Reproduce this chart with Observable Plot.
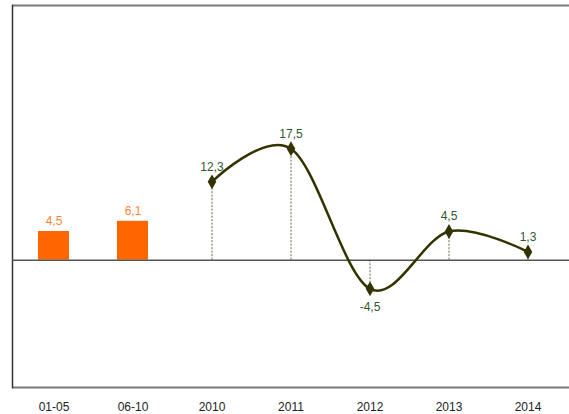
<!DOCTYPE html>
<html>
<head>
<meta charset="utf-8">
<script src="https://cdn.jsdelivr.net/npm/d3@7"></script>
<script src="https://cdn.jsdelivr.net/npm/@observablehq/plot@0.6"></script>
<style>
  html, body { margin: 0; padding: 0; background: #fff; }
  #chart svg { display: block; }
</style>
</head>
<body>
<div id="chart"></div>
<script>
const barCategories = ["01-05", "06-10"];
const barValues = [4.5, 6.1];
const yearCategories = ["2010", "2011", "2012", "2013", "2014"];
const yearValues = [12.3, 17.5, -4.5, 4.5, 1.3];
const categories = [...barCategories, ...yearCategories];
const yDomain = [-20, 40];

const bars = barCategories.map((c, i) => ({cat: c, value: barValues[i]}));
const points = yearCategories.map((c, i) => ({cat: c, value: yearValues[i]}));

const fmt = d3.formatLocale({decimal: ",", thousands: ".", grouping: [3], currency: ["", ""], minus: "-"}).format(".1f");

const lineColor = "#333300";
const labelGreen = "#2f5a30";
const font = "'Liberation Sans', Arial, sans-serif";

const chart = Plot.plot({
  width: 569,
  height: 414,
  marginTop: 5,
  marginBottom: 27,
  marginLeft: 12,
  marginRight: 0,
  style: {fontFamily: font, fontSize: "12px", background: "#fff"},
  x: {type: "band", domain: categories, padding: 0, axis: null},
  y: {domain: yDomain, axis: null},
  marks: [
    Plot.ruleY([yDomain[1]], {stroke: "#7a7a7a", strokeWidth: 2}),
    Plot.ruleY([yDomain[0]], {stroke: "#7a7a7a", strokeWidth: 2}),
    Plot.frame({anchor: "left", stroke: "#333", strokeWidth: 1.5}),
    Plot.barY(bars, {x: "cat", y: "value", fill: "#ff6600", insetLeft: 24, insetRight: 24}),
    Plot.ruleX(points, {x: "cat", y1: 0, y2: "value", stroke: "#666640", strokeWidth: 1, strokeDasharray: "2,1.5"}),
    Plot.ruleY([0], {stroke: "#555", strokeWidth: 1.5}),
    Plot.line(points, {x: "cat", y: "value", stroke: lineColor, strokeWidth: 2.5, curve: "cardinal", tension: 0}),
    Plot.dot(points, {x: "cat", y: "value", symbol: "diamond", r: 4.5, fill: lineColor, stroke: "none"}),
    Plot.text(bars, {x: "cat", y: "value", text: d => fmt(d.value), dy: -10, fill: "#ff8533", fontSize: 12}),
    Plot.text(points.filter(d => d.value >= 0), {x: "cat", y: "value", text: d => fmt(d.value), dy: -15, fill: labelGreen, fontSize: 12}),
    Plot.text(points.filter(d => d.value < 0), {x: "cat", y: "value", text: d => fmt(d.value), dy: 18, fill: labelGreen, fontSize: 12}),
    Plot.axisX({tickSize: 0, tickPadding: 15, fontSize: 12, color: "#222", label: null})
  ]
});
document.getElementById("chart").append(chart);
</script>
</body>
</html>
